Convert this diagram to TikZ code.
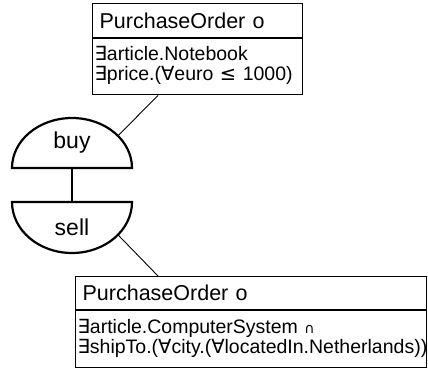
\documentclass[tikz,border=0pt]{standalone}
\usepackage{fontspec}
\setmainfont{Liberation Sans}
\newfontfamily\symfont{DejaVu Sans}
\usetikzlibrary{positioning,calc}

\newcommand{\exs}{{\symfont ∃}}
\newcommand{\fall}{{\symfont ∀}}
\newcommand{\lesseq}{{\symfont ≤}}
\newcommand{\inter}{{\symfont\fontsize{14}{14}\selectfont ∩}}

\tikzset{
  classhead/.style={draw, line width=1.2pt, anchor=north west, align=left,
    inner xsep=7pt, inner ysep=0pt, font=\fontsize{21.5}{24}\selectfont},
  classbody/.style={draw, line width=1.2pt, anchor=north west, align=left,
    inner xsep=2pt, inner ysep=0pt, text depth=26pt, font=\fontsize{19.5}{20}\selectfont},
  dome/.style={line width=2.2pt},
  domelabel/.style={font=\fontsize{23}{26}\selectfont, inner sep=0pt},
  link/.style={line width=0.9pt}
}

\begin{document}
\begin{tikzpicture}[x=1pt,y=-1pt]
\useasboundingbox (0,0) rectangle (428,368);

% upper class box
\node[classhead, text width=196pt, minimum height=34pt] (po1head) at (92,3) {PurchaseOrder o};
\node[classbody, text width=206pt, minimum height=56pt] (po1body) at (po1head.south west)
  {\exs article.Notebook\\ \exs price.(\fall euro \lesseq{} 1000)};

% lower class box
\node[classhead, text width=337pt, minimum height=33pt] (po2head) at (75,276) {PurchaseOrder o};
\node[classbody, text width=347pt, minimum height=57pt] (po2body) at (po2head.south west)
  {\exs article.ComputerSystem \inter\\ \exs shipTo.(\fall city.(\fall locatedIn.Netherlands))};

% roles
\coordinate (buy) at (72,168);
\coordinate (sell) at (72,202);
\draw[dome] ($(buy)+(-60pt,0)$) arc[start angle=180, end angle=0, x radius=60pt, y radius=50pt] -- cycle;
\draw[dome] ($(sell)+(-60pt,0)$) arc[start angle=180, end angle=360, x radius=60pt, y radius=51pt] -- cycle;
\node[domelabel] (buylabel) at ($(buy)+(0,-25)$) {buy};
\node[domelabel] (selllabel) at ($(sell)+(0,25)$) {sell};
\draw[dome] (buy) -- (sell);

% connectors
\coordinate (buyrim) at ($(buy)+(40:60pt and 50pt)$);
\coordinate (sellrim) at ($(sell)+(-40:60pt and 51pt)$);
\draw[link] ([xshift=66pt]po1body.south west) -- (buyrim);
\draw[link] (sellrim) -- ([xshift=83pt]po2head.north west);
\end{tikzpicture}
\end{document}
